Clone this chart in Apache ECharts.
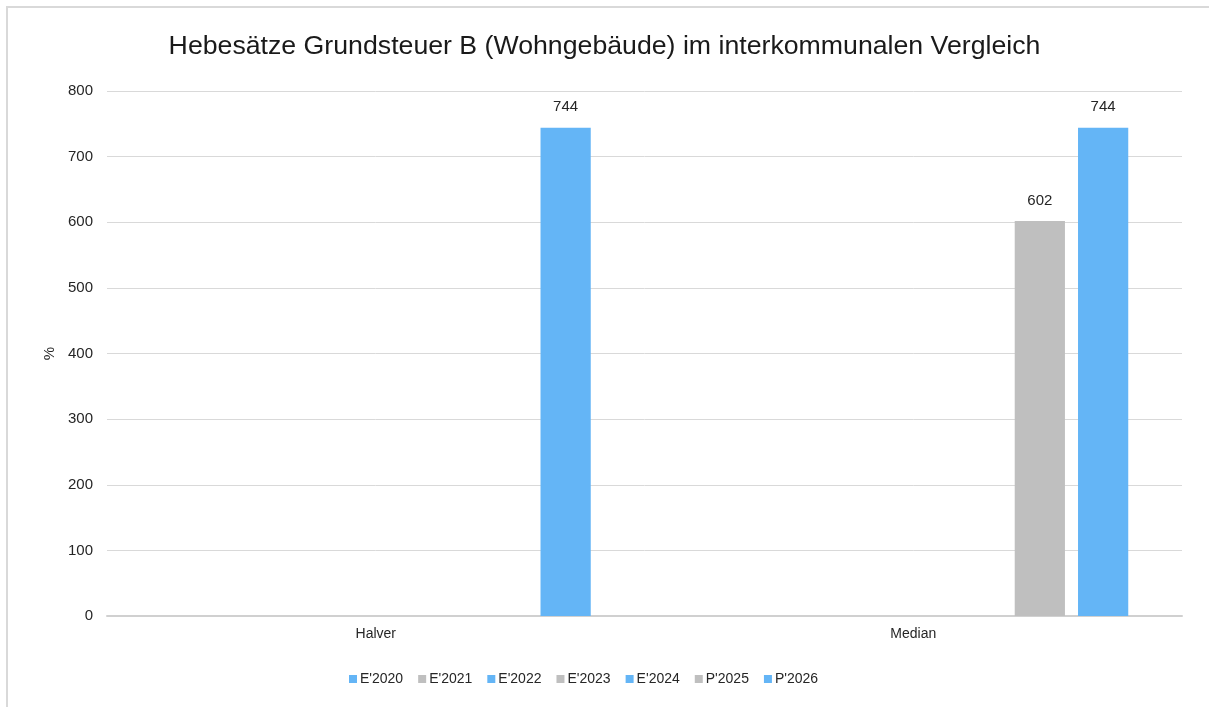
<!DOCTYPE html>
<html>
<head>
<meta charset="utf-8">
<script src="https://cdn.jsdelivr.net/npm/echarts@6/dist/echarts.min.js"></script>
<style>
  html, body { margin: 0; padding: 0; background: #fff; }
  #chart { width: 1209px; height: 707px; }
</style>
</head>
<body>
<div id="chart"></div>
<script>
var categories = ['Halver', 'Median'];
var seriesNames = ["E'2020", "E'2021", "E'2022", "E'2023", "E'2024", "P'2025", "P'2026"];
var e2020 = [null, null];
var e2021 = [null, null];
var e2022 = [null, null];
var e2023 = [null, null];
var e2024 = [null, null];
var p2025 = [null, 602];
var p2026 = [744, 744];
var seriesValues = [e2020, e2021, e2022, e2023, e2024, p2025, p2026];

var blue = '#64b5f6';
var gray = '#bfbfbf';
var colors = [blue, gray, blue, gray, blue, gray, blue];

var chart = echarts.init(document.getElementById('chart'));

var series = seriesNames.map(function (name, i) {
  return {
    name: name,
    type: 'bar',
    data: seriesValues[i],
    barGap: '26%',
    barCategoryGap: '20%',
    itemStyle: { color: colors[i] },
    label: {
      show: true,
      position: 'top',
      distance: 13,
      color: '#262626',
      fontSize: 15,
      fontFamily: 'Liberation Sans'
    }
  };
});

var option = {
  color: colors,
  textStyle: { fontFamily: 'Liberation Sans' },
  title: {
    text: 'Hebesätze Grundsteuer B (Wohngebäude) im interkommunalen Vergleich',
    left: 'center',
    top: 28,
    textStyle: {
      fontSize: 26.7,
      fontWeight: 'normal',
      color: '#1a1a1a',
      fontFamily: 'Liberation Sans'
    }
  },
  legend: {
    bottom: 16,
    left: 344,
    itemWidth: 8,
    itemHeight: 8,
    itemGap: 15,
    icon: 'rect',
    textStyle: { fontSize: 14, color: '#262626', padding: [0, 0, 0, -2] },
    data: seriesNames
  },
  grid: {
    left: 107,
    right: 27,
    top: 91,
    bottom: 91
  },
  xAxis: {
    type: 'category',
    data: categories,
    axisTick: { show: false },
    axisLine: { lineStyle: { color: '#d0d0d0', width: 2 } },
    axisLabel: { color: '#262626', fontSize: 14, margin: 11 }
  },
  yAxis: {
    type: 'value',
    min: 0,
    max: 800,
    interval: 100,
    name: '%',
    nameLocation: 'middle',
    nameGap: 50,
    nameRotate: 90,
    nameTextStyle: { color: '#262626', fontSize: 15 },
    axisLabel: { color: '#262626', fontSize: 15, margin: 14 },
    axisLine: { show: false },
    axisTick: { show: false },
    splitLine: { lineStyle: { color: '#d9d9d9', width: 1 } }
  },
  graphic: [
    {
      type: 'rect',
      shape: { x: 7, y: 7, width: 1400, height: 900 },
      style: { fill: null, stroke: '#d9d9d9', lineWidth: 2 },
      silent: true
    }
  ],
  series: series
};

chart.setOption(option);
</script>
</body>
</html>
